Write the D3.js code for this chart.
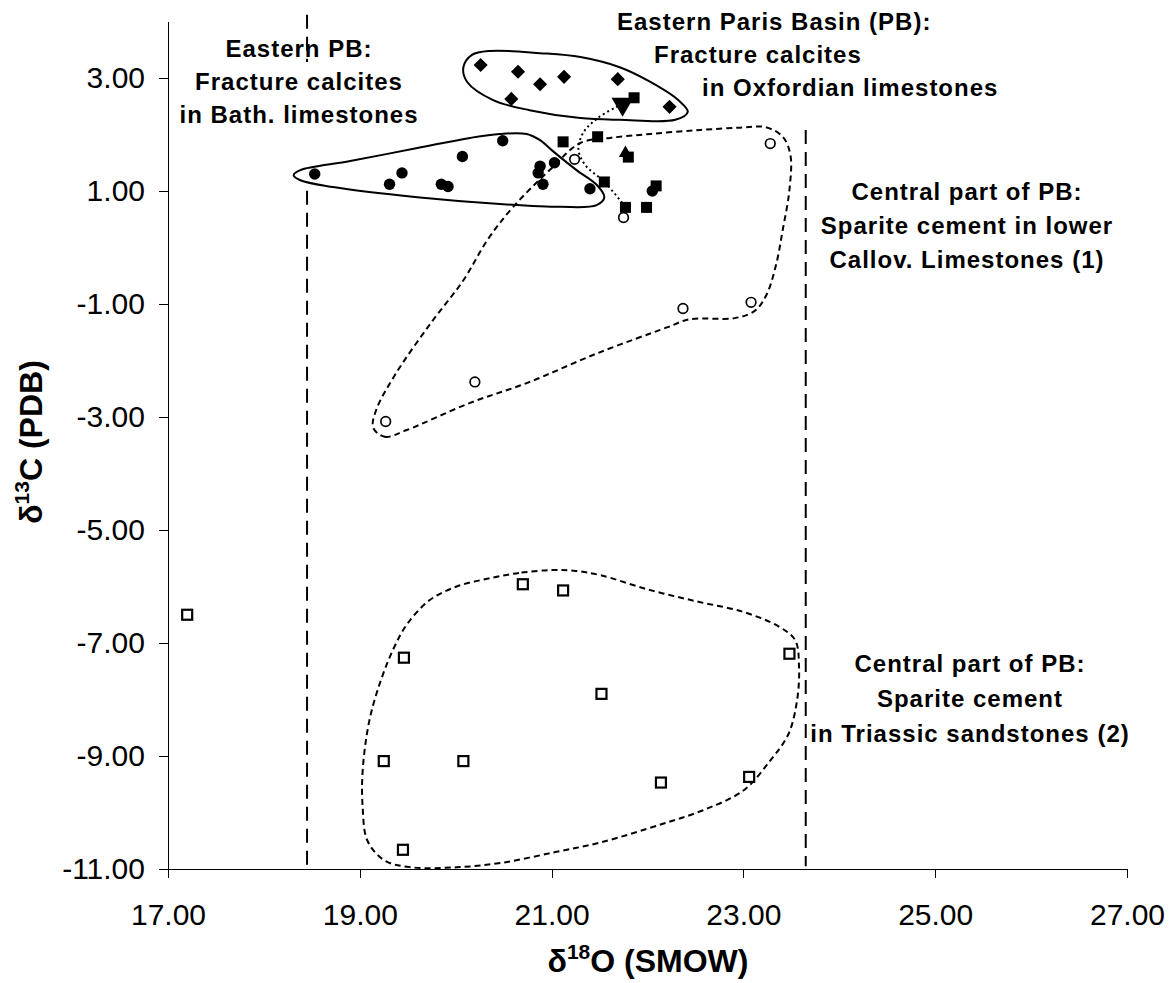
<!DOCTYPE html>
<html>
<head>
<meta charset="utf-8">
<script src="https://cdn.jsdelivr.net/npm/d3@7"></script>
<style>
  body { margin: 0; background: #fff; }
  svg { display: block; font-family: "Liberation Sans", Arial, sans-serif; }
  .axis path, .axis line { stroke: #000; stroke-width: 1px; shape-rendering: crispEdges; }
  .axis text { font-size: 30px; fill: #000; font-family: "Liberation Sans", Arial, sans-serif; }
  .note { font-size: 24px; font-weight: bold; letter-spacing: 1px; fill: #000; }
  .axis-title { font-size: 32px; font-weight: bold; fill: #000; }
</style>
</head>
<body>
<svg id="chart"></svg>
<script>
// tick values
const xTicks = [17, 19, 21, 23, 25, 27];
const yTicks = [3, 1, -1, -3, -5, -7, -9, -11];

// [d18O, d13C] pairs
// Eastern PB: fracture calcites in Oxfordian limestones (diamonds)
const oxfordianCalcites = [[20.26, 3.23], [20.65, 3.11], [20.88, 2.89], [21.13, 3.02], [20.58, 2.63], [21.69, 2.98], [22.23, 2.49]];
// Eastern PB: fracture calcites in Bath. limestones (filled circles)
const bathonianCalcites = [[18.53, 1.30], [19.31, 1.12], [19.44, 1.32], [19.85, 1.12], [19.92, 1.08], [20.07, 1.61],
  [20.49, 1.89], [20.88, 1.44], [20.86, 1.32], [21.03, 1.50], [20.91, 1.12], [21.40, 1.04], [22.05, 1.00]];
// other fracture samples (filled squares, triangles)
const fractureSquares = [[21.12, 1.87], [21.48, 1.96], [21.55, 1.16], [21.77, 0.71], [21.99, 0.71], [22.09, 1.09], [21.86, 2.65], [21.80, 1.60]];
const upTriangles = [[21.77, 1.67]];
const downTriangles = [[21.74, 2.54]];
// Central part of PB: sparite cement in lower Callov. limestones (open circles)
const callovianCement = [[21.24, 1.56], [21.75, 0.53], [23.28, 1.84], [19.27, -3.08], [20.20, -2.38], [22.37, -1.08], [23.08, -0.97]];
// Central part of PB: sparite cement in Triassic sandstones (open squares)
const triassicCement = [[17.20, -6.50], [19.46, -7.26], [20.70, -5.96], [21.12, -6.07], [21.52, -7.90], [23.48, -7.19],
  [19.25, -9.09], [20.08, -9.09], [22.14, -9.47], [23.06, -9.37], [19.45, -10.66]];

// dotted trend line between the fracture samples
const linkPath = [[21.69, 2.50], [21.48, 2.29], [21.33, 2.03], [21.28, 1.73], [21.35, 1.46], [21.55, 1.16], [21.77, 0.72]];

// hand drawn envelopes
const oxfordianEnvelope = [[20.08, 3.19], [20.17, 3.41], [20.36, 3.48], [20.88, 3.44], [21.30, 3.37], [21.71, 3.19], [22.03, 2.93],
  [22.32, 2.61], [22.42, 2.40], [22.29, 2.26], [21.71, 2.26], [21.30, 2.29], [20.77, 2.43], [20.39, 2.61], [20.12, 2.93]];
const bathonianEnvelope = [[18.31, 1.28], [18.38, 1.37], [18.90, 1.53], [19.60, 1.76], [20.15, 1.94], [20.46, 2.01], [20.74, 2.01],
  [20.88, 1.90], [21.01, 1.71], [21.26, 1.37], [21.47, 1.11], [21.55, 0.89], [21.47, 0.75], [21.09, 0.72], [20.46, 0.77],
  [19.60, 0.89], [18.72, 1.07], [18.38, 1.19]];
const callovianEnvelope = [[19.14, -3.19], [19.26, -3.35], [19.49, -3.23], [20.15, -2.75], [20.74, -2.40], [21.48, -1.87],
  [22.21, -1.41], [22.44, -1.27], [22.91, -1.25], [23.12, -1.12], [23.24, -0.84], [23.34, -0.31], [23.41, 0.31], [23.48, 1.02],
  [23.49, 1.64], [23.41, 1.96], [23.23, 2.13], [22.96, 2.12], [22.55, 2.08], [22.03, 2.01], [21.61, 1.94], [21.30, 1.85],
  [21.01, 1.42], [20.60, 0.72], [20.33, 0.13], [20.08, -0.58], [19.74, -1.34], [19.38, -2.22], [19.17, -2.88]];
const triassicEnvelope = [[20.99, -5.71], [20.66, -5.76], [20.34, -5.86], [20.01, -6.00], [19.73, -6.24], [19.50, -6.65],
  [19.36, -7.07], [19.22, -7.66], [19.10, -8.37], [19.03, -9.26], [19.03, -9.91], [19.08, -10.50], [19.26, -10.85],
  [19.54, -10.97], [20.01, -10.97], [20.48, -10.89], [21.04, -10.70], [21.51, -10.53], [22.16, -10.20], [22.58, -9.96],
  [23.00, -9.61], [23.28, -9.08], [23.47, -8.61], [23.56, -8.01], [23.58, -7.42], [23.54, -6.95], [23.37, -6.71],
  [23.00, -6.45], [22.53, -6.27], [22.02, -6.06], [21.51, -5.80], [21.23, -5.72]];

// vertical dashed boundaries
const boundaryLeft = [[18.45, 4.12], [18.45, -10.95]];
const boundaryRight = [[23.65, 2.08], [23.65, -10.95]];

class IsotopePlot {

  constructor(_config) {
    this.config = {
      parentElement: _config.parentElement,
      containerWidth: _config.containerWidth || 1175,
      containerHeight: _config.containerHeight || 983,
      margin: _config.margin || {top: 21.5, right: 48, bottom: 114, left: 168}
    };
    this.initVis();
  }

  initVis() {
    let vis = this;

    vis.width = vis.config.containerWidth - vis.config.margin.left - vis.config.margin.right;
    vis.height = vis.config.containerHeight - vis.config.margin.top - vis.config.margin.bottom;

    vis.xScale = d3.scaleLinear().domain([17, 27]).range([0, vis.width]);
    vis.yScale = d3.scaleLinear().domain([-11, 4]).range([vis.height, 0]);

    // plain hyphen minus, like the original
    const fmt = d => d.toFixed(2);

    vis.xAxis = d3.axisBottom(vis.xScale)
      .tickValues(xTicks)
      .tickFormat(fmt)
      .tickSize(9)
      .tickPadding(26)
      .tickSizeOuter(0);

    vis.yAxis = d3.axisLeft(vis.yScale)
      .tickValues(yTicks)
      .tickFormat(fmt)
      .tickSize(9)
      .tickPadding(14)
      .tickSizeOuter(0);

    vis.svg = d3.select(vis.config.parentElement)
      .attr('width', vis.config.containerWidth)
      .attr('height', vis.config.containerHeight);

    vis.chart = vis.svg.append('g')
      .attr('transform', `translate(${vis.config.margin.left},${vis.config.margin.top})`);

    vis.line = d3.line()
      .x(d => vis.xScale(d[0]))
      .y(d => vis.yScale(d[1]));

    vis.loop = d3.line()
      .x(d => vis.xScale(d[0]))
      .y(d => vis.yScale(d[1]))
      .curve(d3.curveCatmullRomClosed.alpha(0.5));

    vis.renderVis();
  }

  renderVis() {
    let vis = this;
    const x = d => vis.xScale(d[0]);
    const y = d => vis.yScale(d[1]);
    const m = vis.config.margin;

    // boundaries
    [boundaryLeft, boundaryRight].forEach(b => {
      vis.chart.append('path')
        .attr('d', vis.line(b))
        .attr('fill', 'none')
        .attr('stroke', '#000')
        .attr('stroke-width', 2)
        .attr('stroke-dasharray', '14,8');
    });

    // white text box of the left label hides the boundary (drawn under the envelopes)
    vis.chart.append('rect')
      .attr('x', 178 - m.left).attr('y', 62 - m.top)
      .attr('width', 240).attr('height', 104)
      .attr('fill', '#fff');

    // envelopes
    vis.chart.append('path')
      .attr('d', vis.loop(bathonianEnvelope))
      .attr('fill', '#fff').attr('stroke', '#000').attr('stroke-width', 2);
    vis.chart.append('path')
      .attr('d', vis.loop(oxfordianEnvelope))
      .attr('fill', 'none').attr('stroke', '#000').attr('stroke-width', 2);
    [callovianEnvelope, triassicEnvelope].forEach(env => {
      vis.chart.append('path')
        .attr('d', vis.loop(env))
        .attr('fill', 'none').attr('stroke', '#000').attr('stroke-width', 2)
        .attr('stroke-dasharray', '6,4');
    });

    // dotted link
    vis.chart.append('path')
      .attr('d', vis.line.curve(d3.curveCatmullRom.alpha(0.5))(linkPath))
      .attr('fill', 'none').attr('stroke', '#000').attr('stroke-width', 2)
      .attr('stroke-dasharray', '2,3');

    // markers
    vis.chart.selectAll('.open-square')
      .data(triassicCement)
      .join('rect')
        .attr('class', 'open-square')
        .attr('x', d => x(d) - 5).attr('y', d => y(d) - 5)
        .attr('width', 10).attr('height', 10)
        .attr('fill', '#fff').attr('stroke', '#000').attr('stroke-width', 2.2);

    vis.chart.selectAll('.open-circle')
      .data(callovianCement)
      .join('circle')
        .attr('class', 'open-circle')
        .attr('cx', x).attr('cy', y).attr('r', 4.8)
        .attr('fill', '#fff').attr('stroke', '#000').attr('stroke-width', 1.7);

    vis.chart.selectAll('.dot')
      .data(bathonianCalcites)
      .join('circle')
        .attr('class', 'dot')
        .attr('cx', x).attr('cy', y).attr('r', 5.7)
        .attr('fill', '#000');

    vis.chart.selectAll('.diamond')
      .data(oxfordianCalcites)
      .join('path')
        .attr('class', 'diamond')
        .attr('d', d3.symbol(d3.symbolSquare, 100))
        .attr('transform', d => `translate(${x(d)},${y(d)}) rotate(45)`)
        .attr('fill', '#000');

    vis.chart.selectAll('.square')
      .data(fractureSquares)
      .join('rect')
        .attr('class', 'square')
        .attr('x', d => x(d) - 5.5).attr('y', d => y(d) - 5.5)
        .attr('width', 11).attr('height', 11)
        .attr('fill', '#000');

    vis.chart.selectAll('.tri-up')
      .data(upTriangles)
      .join('path')
        .attr('class', 'tri-up')
        .attr('d', d3.symbol(d3.symbolTriangle, 75))
        .attr('transform', d => `translate(${x(d)},${y(d)})`)
        .attr('fill', '#000');

    vis.chart.selectAll('.tri-down')
      .data(downTriangles)
      .join('path')
        .attr('class', 'tri-down')
        .attr('d', d3.symbol(d3.symbolTriangle, 210))
        .attr('transform', d => `translate(${x(d)},${y(d)}) rotate(180)`)
        .attr('fill', '#000');

    // axes
    vis.chart.append('g')
      .attr('class', 'axis x-axis')
      .attr('transform', `translate(0,${vis.height})`)
      .call(vis.xAxis);
    vis.chart.append('g')
      .attr('class', 'axis y-axis')
      .call(vis.yAxis);

    // axis titles
    const xt = vis.svg.append('text')
      .attr('class', 'axis-title')
      .attr('x', 648).attr('y', 972)
      .attr('text-anchor', 'middle');
    xt.append('tspan').text('δ');
    xt.append('tspan').attr('dy', -13).style('font-size', '21px').text('18');
    xt.append('tspan').attr('dy', 13).text('O (SMOW)');

    const yt = vis.svg.append('text')
      .attr('class', 'axis-title')
      .attr('transform', 'translate(42,442) rotate(-90)')
      .attr('text-anchor', 'middle');
    yt.append('tspan').text('δ');
    yt.append('tspan').attr('dy', -13).style('font-size', '21px').text('13');
    yt.append('tspan').attr('dy', 13).text('C (PDB)');

    // annotations
    const note = (lines, xs, ys, anchor) => {
      lines.forEach((t, i) => {
        vis.svg.append('text')
          .attr('class', 'note')
          .attr('x', xs[i]).attr('y', ys[i])
          .attr('text-anchor', anchor)
          .text(t);
      });
    };
    note(['Eastern PB:', 'Fracture calcites', 'in Bath. limestones'], [299, 299, 299], [57, 90, 123], 'middle');
    note(['Eastern Paris Basin (PB):', 'Fracture calcites', 'in Oxfordian limestones'], [617, 654, 702], [30, 63, 96], 'start');
    note(['Central part of PB:', 'Sparite cement in lower', 'Callov. Limestones (1)'], [967, 967, 967], [200, 234, 268], 'middle');
    note(['Central part of PB:', 'Sparite cement', 'in Triassic sandstones (2)'], [970, 970, 970], [672, 707, 742], 'middle');
  }
}

const plot = new IsotopePlot({ parentElement: '#chart' });
</script>
</body>
</html>
